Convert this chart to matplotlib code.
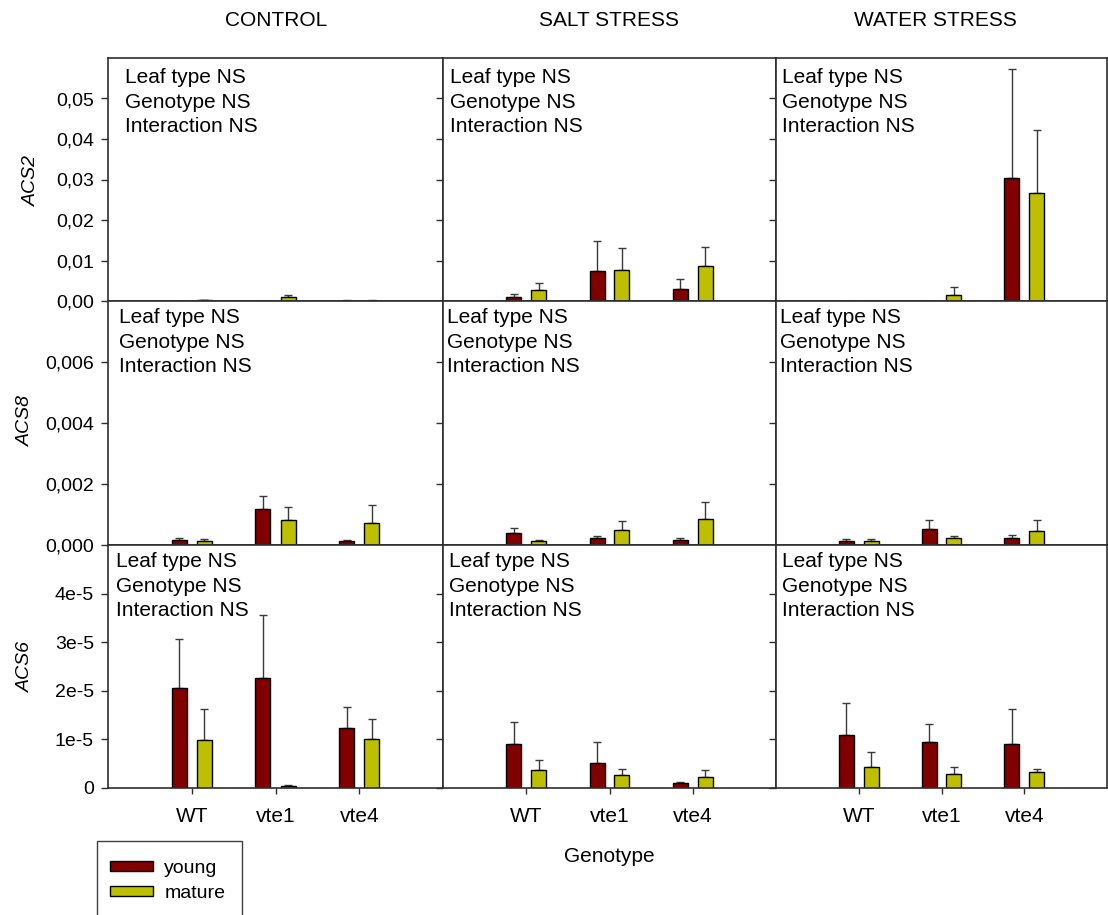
import matplotlib
matplotlib.use("Agg")
import matplotlib.pyplot as plt
from matplotlib.patches import Rectangle
import numpy as np

plt.rcParams['font.family'] = ['Liberation Sans', 'DejaVu Sans']

# ---- data -------------------------------------------------------------
genotypes = ['WT', 'vte1', 'vte4']
conditions = ['CONTROL', 'SALT STRESS', 'WATER STRESS']
genes = ['ACS2', 'ACS8', 'ACS6']
leaf_types = ['young', 'mature']
stats_text = 'Leaf type NS\nGenotype NS\nInteraction NS'

# rows: control, salt, water; columns: WT, vte1, vte4
acs2_young = [[0.00000, 0.00005, 0.00010],
              [0.0009, 0.0074, 0.0030],
              [0.00008, 0.00008, 0.0304]]
acs2_young_se = [[0.0, 0.00002, 0.00005],
                 [0.0009, 0.0073, 0.0024],
                 [0.00003, 0.00003, 0.0268]]
acs2_mature = [[0.00025, 0.0009, 0.00012],
               [0.0027, 0.0076, 0.0086],
               [0.00008, 0.0016, 0.0266]]
acs2_mature_se = [[0.0001, 0.0006, 0.00005],
                  [0.0017, 0.0056, 0.0048],
                  [0.00003, 0.0019, 0.0155]]

acs8_young = [[0.00016, 0.00118, 0.00013],
              [0.00039, 0.00022, 0.00015],
              [0.00014, 0.00052, 0.00023]]
acs8_young_se = [[0.00006, 0.00044, 0.00004],
                 [0.00016, 0.00008, 0.00009],
                 [0.00005, 0.00029, 0.00009]]
acs8_mature = [[0.00013, 0.00082, 0.00071],
               [0.00012, 0.00049, 0.00085],
               [0.00014, 0.00022, 0.00046]]
acs8_mature_se = [[0.00006, 0.00043, 0.00060],
                  [0.00003, 0.00031, 0.00055],
                  [0.00005, 0.00009, 0.00035]]

acs6_young = [[2.06e-5, 2.26e-5, 1.23e-5],
              [0.91e-5, 0.51e-5, 0.10e-5],
              [1.09e-5, 0.94e-5, 0.90e-5]]
acs6_young_se = [[1.00e-5, 1.30e-5, 0.44e-5],
                 [0.44e-5, 0.43e-5, 0.02e-5],
                 [0.66e-5, 0.37e-5, 0.72e-5]]
acs6_mature = [[0.99e-5, 0.05e-5, 1.01e-5],
               [0.38e-5, 0.26e-5, 0.23e-5],
               [0.43e-5, 0.29e-5, 0.33e-5]]
acs6_mature_se = [[0.63e-5, 0.01e-5, 0.40e-5],
                  [0.19e-5, 0.14e-5, 0.14e-5],
                  [0.32e-5, 0.14e-5, 0.06e-5]]

acs2_ticks = [0.0, 0.01, 0.02, 0.03, 0.04, 0.05]
acs2_ticklabels = ['0,00', '0,01', '0,02', '0,03', '0,04', '0,05']
acs8_ticks = [0.0, 0.002, 0.004, 0.006]
acs8_ticklabels = ['0,000', '0,002', '0,004', '0,006']
acs6_ticks = [0.0, 1e-5, 2e-5, 3e-5, 4e-5]
acs6_ticklabels = ['0', '1e-5', '2e-5', '3e-5', '4e-5']
y_limits = [0.06, 0.008, 5e-5]

# ---- layout -----------------------------------------------------------
W, H = 1108, 915
fig = plt.figure(figsize=(W / 100, H / 100), dpi=100)

col_edges = [108, 443, 776, 1107]
row_edges = [58, 301, 545, 788]
young_color = '#800000'
mature_color = '#bdbf00'
frame_color = '#2e2e2e'
fs = 15

young_data = [acs2_young, acs8_young, acs6_young]
young_err = [acs2_young_se, acs8_young_se, acs6_young_se]
mature_data = [acs2_mature, acs8_mature, acs6_mature]
mature_err = [acs2_mature_se, acs8_mature_se, acs6_mature_se]
ticks = [acs2_ticks, acs8_ticks, acs6_ticks]
ticklabels = [acs2_ticklabels, acs8_ticklabels, acs6_ticklabels]

# offsets (px) of the statistics text from each panel's top-left corner
text_dx = [[17, 7, 6], [11, 4, 4], [8, 6, 6]]
text_dy = [10, 7, 7]

x = np.arange(len(genotypes))
offset, width = 0.15, 0.18

for r in range(3):
    for c in range(3):
        left = col_edges[c] / W
        w = (col_edges[c + 1] - col_edges[c]) / W
        bottom = 1 - row_edges[r + 1] / H
        h = (row_edges[r + 1] - row_edges[r]) / H
        ax = fig.add_axes([left, bottom, w, h])

        for xs, vals, errs, color in [
                (x - offset, young_data[r][c], young_err[r][c], young_color),
                (x + offset, mature_data[r][c], mature_err[r][c], mature_color)]:
            ax.bar(xs, vals, width=width, color=color, edgecolor='black',
                   linewidth=1.0, zorder=2)
            ax.errorbar(xs, vals, yerr=[np.zeros(len(vals)), errs], fmt='none',
                        ecolor='#3a3a3a', elinewidth=1.0, capsize=2.6,
                        capthick=1.0, zorder=1)

        ax.set_xlim(-1, 3)
        ax.set_ylim(0, y_limits[r])
        ax.set_yticks(ticks[r])
        if c == 0:
            ax.set_yticklabels(ticklabels[r], fontsize=14)
        else:
            ax.set_yticklabels([])
        ax.tick_params(axis='y', direction='out', length=5, width=1.0,
                       color=frame_color, pad=5)
        if r == 2:
            ax.set_xticks(x)
            ax.set_xticklabels(genotypes, fontsize=fs)
            ax.tick_params(axis='x', direction='out', length=4, width=1.0,
                           color=frame_color, pad=10)
        else:
            ax.set_xticks([])
        for sp in ax.spines.values():
            sp.set_color(frame_color)
            sp.set_linewidth(1.2)

        px = col_edges[c] + text_dx[r][c]
        py = row_edges[r] + text_dy[r]
        fig.text(px / W, 1 - py / H, stats_text, fontsize=fs, va='top',
                 ha='left', linespacing=1.37)

# column titles
title_x = [276, 609, 935]
for cond, tx in zip(conditions, title_x):
    fig.text(tx / W, 1 - 20 / H, cond, fontsize=fs, ha='center', va='center')

# gene labels
gene_pos = [(31, 180), (25, 421), (25, 666)]
for g, (gx, gy) in zip(genes, gene_pos):
    fig.text(gx / W, 1 - gy / H, g, fontsize=14, style='italic',
             rotation=90, ha='center', va='center')

fig.text(609 / W, 1 - 857 / H, 'Genotype', fontsize=fs, ha='center',
         va='center')

# legend box, running off the lower edge of the figure
fig.patches.append(Rectangle((97 / W, -0.05), (242 - 97) / W,
                             0.05 + 1 - 841 / H, transform=fig.transFigure,
                             fill=False, edgecolor='#404040', linewidth=1.0))
handles = [Rectangle((0, 0), 1, 1, facecolor=young_color, edgecolor='black',
                     linewidth=1.0),
           Rectangle((0, 0), 1, 1, facecolor=mature_color, edgecolor='black',
                     linewidth=1.0)]
fig.legend(handles, leaf_types, loc='upper left',
           bbox_to_anchor=(110 / W, 1 - 860 / H), frameon=False, fontsize=14,
           handlelength=2.2, handleheight=0.38, handletextpad=0.6,
           labelspacing=0.4, borderpad=0, borderaxespad=0)

fig.savefig('out.png', dpi=100)
